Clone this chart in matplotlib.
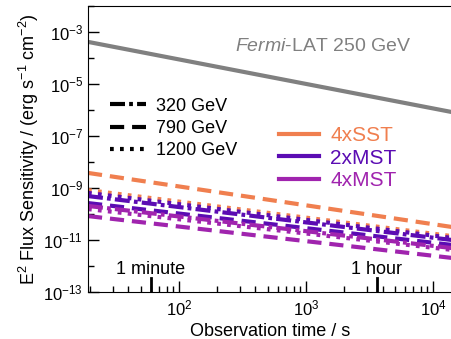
import numpy as np
import matplotlib
matplotlib.use("Agg")
import matplotlib.pyplot as plt
from matplotlib.lines import Line2D
from matplotlib.transforms import blended_transform_factory

plt.rcParams['font.family'] = ['Liberation Sans', 'DejaVu Sans']
plt.rcParams['mathtext.fontset'] = 'custom'
plt.rcParams['mathtext.rm'] = 'Liberation Sans'
plt.rcParams['mathtext.it'] = 'Liberation Sans:italic'
plt.rcParams['mathtext.default'] = 'regular'

# observation time range (s) at which the curves were read
t_ends = [19.2, 14100]

# log10 flux sensitivity at start / end of each curve
fermi = [-3.38, -6.08]
sst_790 = [-8.42, -10.50]
sst_1200 = [-9.08, -10.85]
mst2_320 = [-9.31, -11.00]
mst2_790 = [-9.58, -11.19]
mst2_1200 = [-9.19, -10.92]
mst4_320 = [-9.69, -11.31]
mst4_790 = [-10.08, -11.69]
mst4_1200 = [-9.81, -11.38]

marker_times = [60, 3600]
marker_labels = ['1 minute', '1 hour']

c_sst = '#f07f4f'
c_mst2 = '#5b0cb3'
c_mst4 = '#a024ae'
c_fermi = '#808080'

styles = {
    '320': (0, (3.6, 1.0, 0.9, 1.0)),
    '790': (0, (3.4, 1.9)),
    '1200': (0, (0.9, 1.5)),
}

fig = plt.figure(figsize=(4.52, 3.39), dpi=100)
ax = fig.add_axes([88 / 452, 47 / 339, 364 / 452, 286 / 339])

lw = 3.0
t = np.array(t_ends)
ax.plot(t, 10 ** np.array(fermi), color=c_fermi, lw=3.0, solid_capstyle='butt')
ax.plot(t, 10 ** np.array(sst_790), color=c_sst, lw=lw, linestyle=styles['790'])
ax.plot(t, 10 ** np.array(sst_1200), color=c_sst, lw=lw, linestyle=styles['1200'])
ax.plot(t, 10 ** np.array(mst2_320), color=c_mst2, lw=lw, linestyle=styles['320'])
ax.plot(t, 10 ** np.array(mst2_790), color=c_mst2, lw=lw, linestyle=styles['790'])
ax.plot(t, 10 ** np.array(mst2_1200), color=c_mst2, lw=lw, linestyle=styles['1200'])
ax.plot(t, 10 ** np.array(mst4_320), color=c_mst4, lw=lw, linestyle=styles['320'])
ax.plot(t, 10 ** np.array(mst4_790), color=c_mst4, lw=lw, linestyle=styles['790'])
ax.plot(t, 10 ** np.array(mst4_1200), color=c_mst4, lw=lw, linestyle=styles['1200'])

ax.set_xscale('log')
ax.set_yscale('log')
ax.set_xlim(t_ends[0], t_ends[1])
ax.set_ylim(1e-13, 1e-2)

ax.set_yticks([10.0 ** k for k in range(-13, -2, 2)])
ax.yaxis.set_minor_locator(matplotlib.ticker.FixedLocator([10.0 ** k for k in range(-12, -1, 2)]))
ax.yaxis.set_minor_formatter(matplotlib.ticker.NullFormatter())
ax.tick_params(which='major', direction='in', length=8, width=1, labelsize=12)
ax.tick_params(which='minor', direction='in', length=4, width=1)
ax.tick_params(axis='x', pad=5)
ax.spines['right'].set_visible(False)

trans = blended_transform_factory(ax.transData, ax.transAxes)
for mt, ml in zip(marker_times, marker_labels):
    ax.axvline(mt, ymin=0, ymax=0.05, color='k', lw=2)
    ax.text(mt, 0.077, ml, transform=trans, ha='center', va='center', fontsize=13)

ax.text(0.404, 0.857, r'$\mathit{Fermi}$-LAT 250 GeV', transform=ax.transAxes,
        color=c_fermi, fontsize=14, va='center', ha='left')

ax.set_xlabel('Observation time / s', fontsize=13, labelpad=3)
ax.set_ylabel(r'E$^2$ Flux Sensitivity / (erg s$^{-1}$ cm$^{-2}$)', fontsize=13, labelpad=2)

style_handles = [Line2D([], [], color='k', lw=lw, linestyle=styles[k]) for k in ['320', '790', '1200']]
leg1 = ax.legend(style_handles, ['320 GeV', '790 GeV', '1200 GeV'], loc='upper left',
                 bbox_to_anchor=(0.06, 0.68), frameon=False, fontsize=13,
                 handlelength=2.0, handletextpad=0.55, labelspacing=0.3, borderaxespad=0,
                 borderpad=0)
ax.add_artist(leg1)

color_handles = [Line2D([], [], color=c, lw=lw) for c in [c_sst, c_mst2, c_mst4]]
ax.legend(color_handles, ['4xSST', '2xMST', '4xMST'], loc='upper left',
          bbox_to_anchor=(0.525, 0.58), frameon=False, fontsize=15, labelcolor='linecolor',
          handlelength=1.9, handletextpad=0.55, labelspacing=0.17, borderaxespad=0,
          borderpad=0)

fig.savefig('out.png', dpi=100)
